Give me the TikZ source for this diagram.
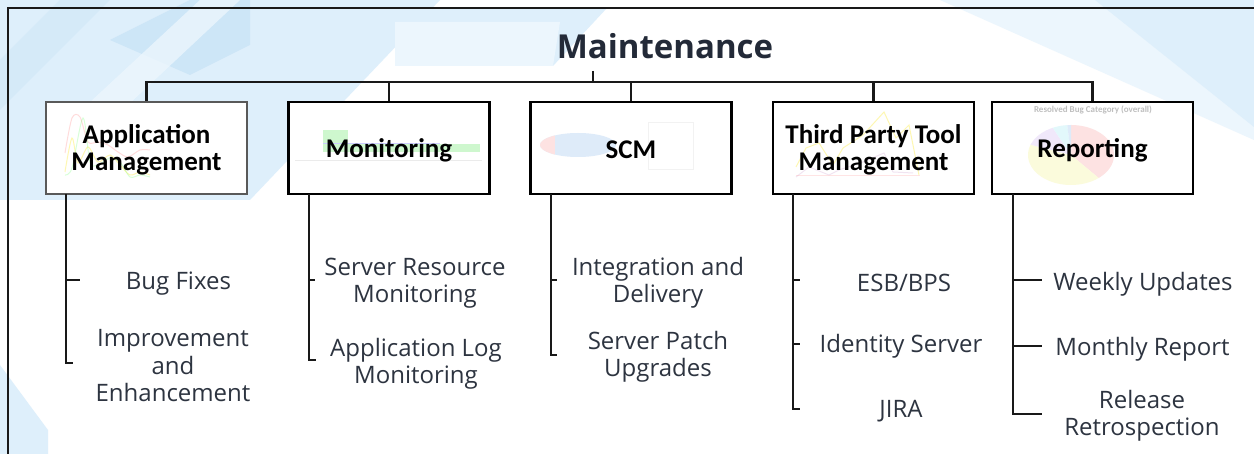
\documentclass[tikz,border=0pt]{standalone}
\usepackage{fontspec}
\setmainfont{Open Sans}
\newfontfamily\calib{Carlito}
\definecolor{bgA}{RGB}{222,239,251}
\definecolor{bgB}{RGB}{205,230,247}
\definecolor{bgC}{RGB}{236,246,253}
\definecolor{txt}{RGB}{45,52,64}
\definecolor{ttl}{RGB}{35,42,56}
\definecolor{pieP}{RGB}{253,226,226}
\definecolor{pieY}{RGB}{251,251,220}
\definecolor{pieL}{RGB}{240,232,250}
\definecolor{pieC}{RGB}{226,248,251}
\definecolor{pieB}{RGB}{222,235,249}
\definecolor{bargreen}{RGB}{206,247,206}
\begin{document}
\begin{tikzpicture}[x=1pt,y=-1pt,
  wire/.style={line width=2.3pt,draw=black!90},
  boxnode/.style={draw=black,line width=2.3pt,minimum width=201pt,minimum height=92pt,inner sep=0pt},
  boxlabel/.style={inner sep=0pt,align=center,font=\calib\bfseries\fontsize{27}{27}\selectfont},
  item/.style={font=\fontsize{24}{27.5}\selectfont,text=txt,align=center,inner sep=0pt},
  faint/.style={line width=1pt,opacity=0.3}]
\useasboundingbox (0,0) rectangle (1254,454);
% ---------- background ----------
\fill[white] (0,0) rectangle (1254,454);
\fill[bgA] (0,0) -- (440,0) -- (250,200) -- (0,200) -- cycle;
\fill[bgB] (110,40) -- (190,0) -- (250,0) -- (250,45) -- (190,75) -- cycle;
\fill[bgB,opacity=0.5] (0,60) -- (60,0) -- (110,0) -- (0,110) -- cycle;
\fill[bgC,opacity=0.8] (60,130) -- (200,0) -- (240,0) -- (80,150) -- cycle;
\fill[bgA] (395,8) -- (607,8) -- (553,66) -- (395,66) -- cycle;
\fill[bgC] (395,22) -- (560,22) -- (553,66) -- (395,66) -- cycle;
\fill[bgC] (940,0) -- (1254,0) -- (1254,140) -- cycle;
\fill[bgA] (1095,0) -- (1254,0) -- (1254,127) -- cycle;
\fill[bgA] (0,365) -- (48,430) -- (48,454) -- (0,454) -- cycle;
% ---------- frame ----------
\draw[wire] (8,454) -- (8,8) -- (1254,8);
% ---------- title ----------
\node[anchor=base,inner sep=0pt,text=ttl,font=\bfseries\fontsize{33}{33}\selectfont] (title) at (665,59) {Maintenance};
% ---------- boxes ----------
\node[boxnode,draw=black!65,fill=white] (b1) at (146.5,148) {};
\node[boxnode,fill=white] (b2) at (389,148) {};
\node[boxnode,fill=white] (b3) at (631,148) {};
\node[boxnode,fill=white] (b4) at (873.5,148) {};
\node[boxnode,fill=white] (b5) at (1092.5,148) {};
% faint chart pictures inside boxes
\draw[faint,red!45] plot[smooth] coordinates {(65,153) (72,118) (80,117) (88,142) (98,142) (108,145) (118,152) (128,157) (140,150) (150,150)};
\draw[faint,yellow!90!orange] plot[smooth] coordinates {(65,172) (72,138) (78,163) (88,147) (98,162) (110,155) (120,165) (130,175) (140,172) (150,175)};
\draw[faint,green!50] plot[smooth] coordinates {(65,175) (72,168) (83,118) (90,162) (98,165) (110,158) (120,162) (130,177) (140,175) (150,177)};
\fill[bargreen] (323,130) rectangle (348,152);
\fill[bargreen] (348,144) rectangle (480,152);
\draw[blue!20,line width=0.8pt] (323,143) -- (440,143);
\draw[black!8,line width=0.8pt] (295,160) -- (482,160);
\fill[pieB] (578,145) ellipse [x radius=38pt,y radius=12pt];
\begin{scope}
\clip (578,145) ellipse [x radius=38pt,y radius=12pt];
\fill[pieP] (538,130) rectangle (555,160);
\end{scope}
\draw[black!5,line width=0.6pt] (648,122) rectangle (693,169);
\draw[faint,yellow!90!orange] (796,167) -- (806,148) -- (819,143) -- (833,165) -- (843,148) -- (863,135) -- (884,112) -- (896,138) -- (909,125) -- (919,175);
\draw[faint,violet!35] (796,177) -- (809,167) -- (829,175) -- (839,170) -- (863,162) -- (884,153) -- (893,172) -- (913,173);
\draw[faint,red!35] (796,176) -- (920,176);
\fill[pieP] (1071,155) -- plot[domain=-90:50,samples=30] ({1071+43*cos(\x)},{155+30*sin(\x)}) -- cycle;
\fill[pieY] (1071,155) -- plot[domain=50:200,samples=30] ({1071+43*cos(\x)},{155+30*sin(\x)}) -- cycle;
\fill[pieL] (1071,155) -- plot[domain=200:245,samples=12] ({1071+43*cos(\x)},{155+30*sin(\x)}) -- cycle;
\fill[pieC] (1071,155) -- plot[domain=245:265,samples=8] ({1071+43*cos(\x)},{155+30*sin(\x)}) -- cycle;
\fill[pieB] (1071,155) -- plot[domain=265:270,samples=4] ({1071+43*cos(\x)},{155+30*sin(\x)}) -- cycle;
\node[inner sep=0pt,text=black!25,font=\calib\bfseries\fontsize{9}{9}\selectfont] (rbc) at (1093,110) {Resolved Bug Category (overall)};
% box labels
\node[boxlabel] (l1) at ([yshift=-2pt]b1.center) {Application\\Management};
\node[boxlabel] (l2) at ([yshift=-2pt]b2.center) {Monitoring};
\node[boxlabel] (l3) at ([yshift=-2pt]b3.center) {SCM};
\node[boxlabel] (l4) at ([yshift=-2pt]b4.center) {Third Party Tool\\Management};
\node[boxlabel] (l5) at ([yshift=-2pt]b5.center) {Reporting};
% ---------- bus ----------
\coordinate (busy) at (0,82);
\coordinate (tk) at (593,71);
\draw[wire] (tk) -- (tk |- busy);
\draw[wire] (b1.north) -- (b1.north |- busy) -- (b5.north |- busy) -- (b5.north);
\draw[wire] (b2.north) -- (b2.north |- busy);
\draw[wire] (b3.north) -- (b3.north |- busy);
\draw[wire] (b4.north) -- (b4.north |- busy);
% ---------- sub items ----------
\node[item] (i11) at (178.5,284) {Bug Fixes};
\node[item] (i12) at (173,366) {Improvement\\and\\Enhancement};
\node[item] (i21) at (415,283) {Server Resource\\Monitoring};
\node[item] (i22) at (416,364) {Application Log\\Monitoring};
\node[item] (i31) at (658,283) {Integration and\\Delivery};
\node[item] (i32) at (658,357) {Server Patch\\Upgrades};
\node[item] (i41) at (904,283) {ESB/BPS};
\node[item] (i42) at (901,346) {Identity Server};
\node[item] (i43) at (901,411) {JIRA};
\node[item] (i51) at (1143,284) {Weekly Updates};
\node[item] (i52) at (1142.5,349) {Monthly Report};
\node[item] (i53) at (1142,416) {Release\\Retrospection};
% spines
\coordinate (s1) at (66,194);
\coordinate (t11) at (80,280);
\coordinate (t12) at (73,363);
\draw[wire] (s1) -- (s1 |- t12) -- (t12);
\draw[wire] (s1 |- t11) -- (t11);
\coordinate (s2) at (309,194);
\coordinate (t21) at (315,280);
\coordinate (t22) at (316,360);
\draw[wire] (s2) -- (s2 |- t22) -- (t22);
\draw[wire] (s2 |- t21) -- (t21);
\coordinate (s3) at (551,194);
\coordinate (t31) at (557,280);
\coordinate (t32) at (557,355);
\draw[wire] (s3) -- (s3 |- t32) -- (t32);
\draw[wire] (s3 |- t31) -- (t31);
\coordinate (s4) at (793,194);
\coordinate (t41) at (800,280);
\coordinate (t42) at (800,344);
\coordinate (t43) at (800,409);
\draw[wire] (s4) -- (s4 |- t43) -- (t43);
\draw[wire] (s4 |- t41) -- (t41);
\draw[wire] (s4 |- t42) -- (t42);
\coordinate (s5) at (1013,194);
\coordinate (t51) at (1042,280);
\coordinate (t52) at (1042,346);
\coordinate (t53) at (1042,414);
\draw[wire] (s5) -- (s5 |- t53) -- (t53);
\draw[wire] (s5 |- t51) -- (t51);
\draw[wire] (s5 |- t52) -- (t52);
\end{tikzpicture}
\end{document}
